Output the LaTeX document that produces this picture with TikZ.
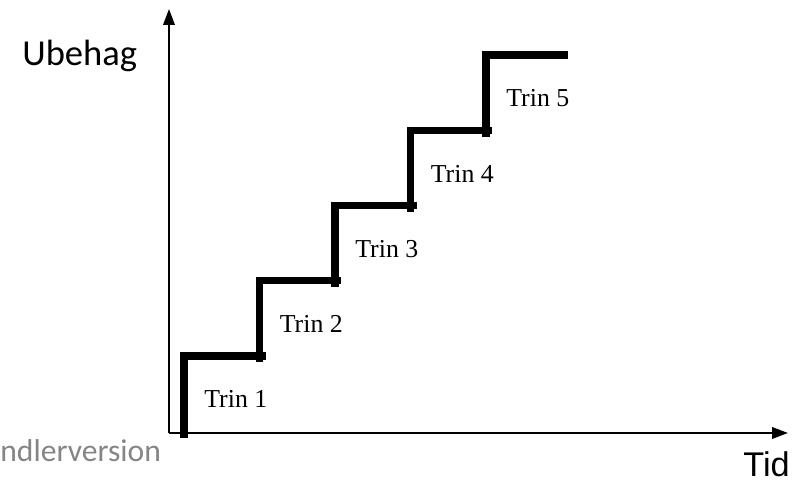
\documentclass[tikz,border=0pt]{standalone}
\usepackage{fontspec}
\setmainfont{Liberation Serif}
\newfontfamily\calibrifont{Carlito}
\newfontfamily\arialfont{Liberation Sans}
\usetikzlibrary{arrows.meta,calc}
\newcommand{\trinfont}{\fontsize{14.7}{17}\selectfont}

\begin{document}
\begin{tikzpicture}[x=0.02cm,y=-0.02cm,
	axis/.style={line width=1.2pt,-{Triangle[length=0.32cm,width=0.23cm]}},
	stair/.style={line width=4pt,line cap=rect,line join=miter},
	lbl/.style={inner sep=0pt,anchor=base west}]
		\useasboundingbox (0,0) rectangle (796,482);
		% axes
		\coordinate (origin) at (169,433);
		\coordinate (ytop) at (169,9);
		\coordinate (xend) at (788,433);
		\draw[axis] (origin) -- (ytop);
		\draw[axis] (origin) -- (xend);
		\node[lbl,font=\calibrifont\fontsize{20.8}{24}\selectfont] (ubehag) at (22,66) {Ubehag};
		\node[lbl,font=\arialfont\fontsize{19.5}{23}\selectfont] (tid) at (743,477) {Tid};
		\node[lbl,font=\calibrifont\fontsize{18}{22}\selectfont,text=black!48] (version) at (0,462) {ndlerversion};
		% the five steps
		\foreach \i in {1,...,5} {
			\pgfmathsetmacro\sx{184+75.5*(\i-1)}
			\pgfmathsetmacro\sy{356-75.25*(\i-1)}
			\coordinate (riser\i) at (\sx,\sy+78);
			\coordinate (corner\i) at (\sx,\sy);
			\coordinate (tread\i) at (\sx+78,\sy);
			\draw[stair] (riser\i) -- (corner\i) -- (tread\i);
			\node[lbl,font=\trinfont] (trin\i) at (\sx+20,\sy+52) {Trin \i};
		}
		%\draw[red] (0,0) rectangle (796,482);
\end{tikzpicture}
\end{document}
